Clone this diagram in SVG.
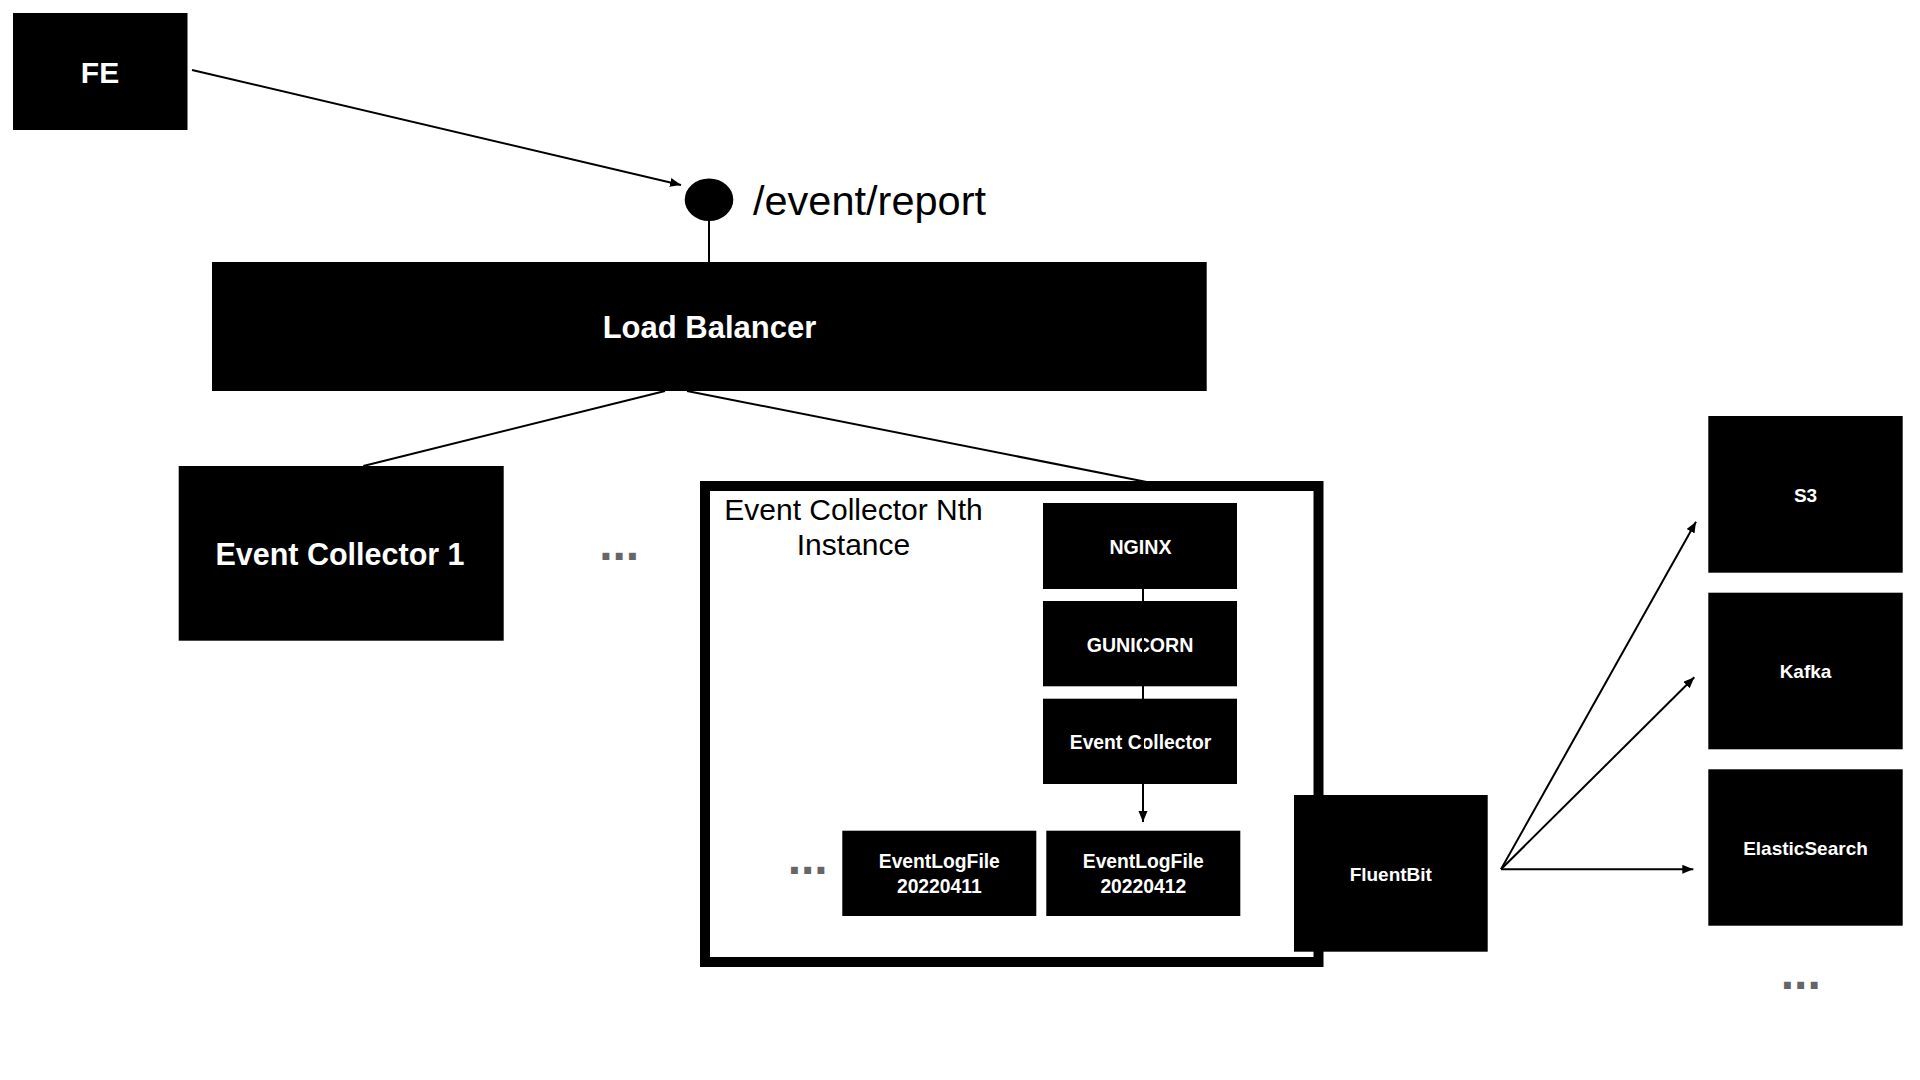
<svg xmlns="http://www.w3.org/2000/svg" width="1920" height="1080" viewBox="0 0 1920 1080">
<defs>
<style>
.box{fill:#000}
.lbl{font-family:"Liberation Sans",Arial,Helvetica,sans-serif;font-weight:bold;fill:#fff;text-anchor:middle}
.txt{font-family:"Liberation Sans",Arial,Helvetica,sans-serif;fill:#000}
.dots{font-family:"Liberation Sans",Arial,Helvetica,sans-serif;font-weight:bold;font-size:48px;fill:#666;text-anchor:middle}
.conn{stroke:#000;stroke-width:2;fill:none}
</style>
<marker id="arr" markerUnits="userSpaceOnUse" markerWidth="12" markerHeight="10" refX="11" refY="4.5" orient="auto">
<path d="M0,0 L11,4.5 L0,9 z" fill="#000"/>
</marker>
</defs>
<rect width="1920" height="1080" fill="#fff"/>

<g id="fe">
<rect class="box" x="13" y="13" width="174.5" height="117"/>
<text class="lbl" x="100" y="83" font-size="30">FE</text>
</g>

<g id="endpoint">
<ellipse cx="709" cy="199.7" rx="24.3" ry="21.3" fill="#000"/>
<text class="txt" x="753" y="215" font-size="41.5">/event/report</text>
</g>

<g id="load-balancer">
<rect class="box" x="212" y="262" width="994.7" height="129"/>
<text class="lbl" x="709.5" y="338" font-size="31">Load Balancer</text>
</g>

<g id="event-collector-1">
<rect class="box" x="178.7" y="466" width="325" height="174.7"/>
<text class="lbl" x="340" y="565" font-size="30.5">Event Collector 1</text>
</g>

<g id="dots-collectors">
<text class="dots" x="619.2" y="560">...</text>
</g>

<g id="event-collector-nth">
<rect x="705" y="486" width="613.5" height="476" fill="none" stroke="#000" stroke-width="10"/>
<text class="txt" x="853.5" y="519.5" font-size="30" text-anchor="middle">Event Collector Nth</text>
<text class="txt" x="853.5" y="554.5" font-size="30" text-anchor="middle">Instance</text>
</g>

<g id="nginx">
<rect class="box" x="1043" y="503" width="194" height="86"/>
<text class="lbl" x="1140.5" y="554" font-size="19.6">NGINX</text>
</g>

<g id="gunicorn">
<rect class="box" x="1043" y="601" width="194" height="85.3"/>
<text class="lbl" x="1140" y="651.7" font-size="19.6">GUNICORN</text>
</g>

<g id="event-collector">
<rect class="box" x="1043" y="698.7" width="194" height="85.3"/>
<text class="lbl" x="1140.5" y="749" font-size="19.3">Event Collector</text>
</g>

<g id="eventlogfile-20220411">
<rect class="box" x="842.3" y="830.7" width="194" height="85.3"/>
<text class="lbl" x="939.3" y="868.3" font-size="19.3">EventLogFile</text>
<text class="lbl" x="939.3" y="893.3" font-size="19.3">20220411</text>
</g>

<g id="eventlogfile-20220412">
<rect class="box" x="1046.3" y="830.7" width="194" height="85.3"/>
<text class="lbl" x="1143.3" y="868.3" font-size="19.3">EventLogFile</text>
<text class="lbl" x="1143.3" y="893.3" font-size="19.3">20220412</text>
</g>

<g id="dots-logfiles">
<text class="dots" x="807.7" y="874.3">...</text>
</g>

<g id="fluentbit">
<rect class="box" x="1294" y="795" width="193.7" height="156.7"/>
<text class="lbl" x="1390.8" y="880.7" font-size="19">FluentBit</text>
</g>

<g id="s3">
<rect class="box" x="1708.3" y="416" width="194.4" height="156.7"/>
<text class="lbl" x="1805.5" y="501.7" font-size="19">S3</text>
</g>

<g id="kafka">
<rect class="box" x="1708.3" y="592.7" width="194.4" height="156.6"/>
<text class="lbl" x="1805.5" y="678.3" font-size="19">Kafka</text>
</g>

<g id="elasticsearch">
<rect class="box" x="1708.3" y="769.3" width="194.4" height="156.4"/>
<text class="lbl" x="1805.5" y="855" font-size="19">ElasticSearch</text>
</g>

<g id="dots-sinks">
<text class="dots" x="1800.8" y="989.3">...</text>
</g>

<g id="connectors">
<line class="conn" x1="192" y1="70" x2="681" y2="185" marker-end="url(#arr)"/>
<line class="conn" x1="709" y1="221" x2="709" y2="262"/>
<line class="conn" x1="665" y1="391" x2="363.3" y2="466"/>
<line class="conn" x1="687" y1="391" x2="1146.7" y2="482"/>
<line class="conn" x1="1143" y1="589" x2="1143" y2="822" marker-end="url(#arr)"/>
<line class="conn" x1="1501" y1="869.3" x2="1696" y2="521.7" marker-end="url(#arr)"/>
<line class="conn" x1="1501" y1="869.3" x2="1694.3" y2="677.3" marker-end="url(#arr)"/>
<line class="conn" x1="1501" y1="869.3" x2="1693.3" y2="869.3" marker-end="url(#arr)"/>
</g>
</svg>
